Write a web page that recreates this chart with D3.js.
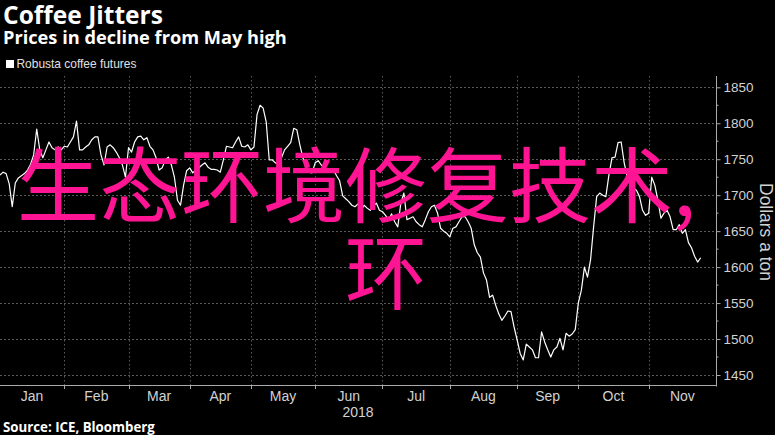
<!DOCTYPE html>
<html><head><meta charset="utf-8">
<script src="https://cdn.jsdelivr.net/npm/d3@7/dist/d3.min.js"></script>
<style>html,body{margin:0;padding:0;background:#000;}svg{display:block;}</style>
</head><body>
<svg id="c" width="775" height="435"></svg>
<script>
// ---- data ----
const months = ["Jan","Feb","Mar","Apr","May","Jun","Jul","Aug","Sep","Oct","Nov"];
const sessionsPerMonth = [21,21,20,20,21,22,22,22,20,23,22];
const yearLabel = "2018";
const yTicks = [1450,1500,1550,1600,1650,1700,1750,1800,1850];
// Robusta coffee futures, one value per trading session from Jan 2 2018
const prices = [
1728,1732,1730,1716,1684,1717,1724,1727,1730,1735,1743,1756,1792,1763,1752,1763,1774,1766,1763,1767,
1763,1768,1767,1774,1781,1803,1763,1763,1767,1770,1777,1781,1781,1756,1742,1767,1770,1766,1760,1752,
1742,1725,1766,1760,1774,1781,1782,1777,1780,1768,1763,1752,1735,1738,1749,1753,1742,1725,1693,1686,
1714,1734,1738,1731,1735,1738,1742,1745,1739,1736,1736,1735,1732,1749,1768,1767,1766,1774,1781,1768,
1767,1770,1763,1767,1812,1825,1821,1802,1749,1749,1745,1742,1752,1763,1768,1773,1793,1791,1770,1752,
1738,1732,1731,1745,1748,1742,1739,1735,1732,1735,1727,1720,1699,1695,1691,1686,1684,1688,1679,1686,
1682,1679,1685,1689,1679,1677,1672,1666,1674,1663,1656,1689,1703,1666,1668,1670,1663,1659,1656,1666,
1677,1684,1686,1675,1654,1650,1647,1642,1654,1656,1663,1670,1670,1663,1654,1631,1620,1614,1592,1582,
1558,1561,1547,1535,1526,1532,1539,1538,1517,1499,1480,1471,1493,1489,1485,1474,1474,1510,1496,1485,
1475,1485,1489,1501,1485,1508,1504,1507,1513,1550,1568,1600,1586,1610,1656,1698,1703,1700,1698,1728,
1752,1753,1773,1774,1745,1725,1716,1710,1707,1698,1679,1672,1675,1725,1714,1693,1668,1675,1679,1670,
1652,1652,1659,1647,1652,1634,1627,1615,1607,1613
];
const titleText = "Coffee Jitters";
const subtitleText = "Prices in decline from May high";
const legendText = "Robusta coffee futures";
const sourceText = "Source: ICE, Bloomberg";
const axisTitle = "Dollars a ton";
const overlayLines = ["生态环境修复技术,", "环"];

// ---- layout ----
const svg = d3.select("#c");
svg.append("rect").attr("width",775).attr("height",435).attr("fill","#000");
const plotL = 0, plotR = 716, plotT = 76, plotB = 385.5;
const totalSessions = d3.sum(sessionsPerMonth);
const starts = [];
sessionsPerMonth.reduce((a,n)=>{starts.push(a);return a+n;},0);

const x = d3.scaleLinear().domain([0,totalSessions]).range([plotL,plotR]);
const y = d3.scaleLinear().domain([1450,1850]).range([375,87.3]);

const grid = svg.append("g");
grid.selectAll("line.h").data(yTicks).join("line")
  .attr("x1",plotL).attr("x2",plotR).attr("y1",d=>y(d)).attr("y2",d=>y(d))
  .attr("stroke","#5a5a5a").attr("stroke-width",1).attr("stroke-dasharray","1.5,2.5").attr("shape-rendering","crispEdges");
grid.selectAll("line.v").data(starts.slice(1)).join("line")
  .attr("x1",d=>Math.round(x(d))+0.5).attr("x2",d=>Math.round(x(d))+0.5).attr("y1",plotT).attr("y2",plotB)
  .attr("stroke","#5a5a5a").attr("stroke-width",1).attr("stroke-dasharray","1.5,2.5");

// right axis
const yAxis = d3.axisRight(y).tickValues(yTicks).tickSize(4).tickPadding(3).tickFormat(d3.format("d"));
const ya = svg.append("g").attr("transform",`translate(${plotR+0.5},0)`).call(yAxis);
ya.select(".domain").remove();
ya.selectAll("line").attr("stroke","#aaa");
ya.selectAll("text").attr("fill","#d2d2d2").attr("font-family","Liberation Sans, Arial, sans-serif").attr("font-size",13.5);
const minor = d3.range(1475,1850,50);
svg.append("g").selectAll("line").data(minor).join("line")
  .attr("x1",plotR).attr("x2",plotR+2.5).attr("y1",d=>y(d)).attr("y2",d=>y(d)).attr("stroke","#aaa");
svg.append("line").attr("x1",plotR+0.5).attr("x2",plotR+0.5).attr("y1",plotT).attr("y2",plotB+1).attr("stroke","#aaa");

// bottom axis
svg.append("line").attr("x1",plotL).attr("x2",plotR+1).attr("y1",plotB).attr("y2",plotB).attr("stroke","#aaa");
svg.append("g").selectAll("line").data(starts.slice(1)).join("line")
  .attr("x1",d=>Math.round(x(d))+0.5).attr("x2",d=>Math.round(x(d))+0.5).attr("y1",plotB).attr("y2",plotB+3.5).attr("stroke","#aaa");
svg.append("g").selectAll("text").data(months).join("text")
  .attr("x",(d,i)=>x(starts[i]+sessionsPerMonth[i]/2)).attr("y",400.5)
  .attr("text-anchor","middle").attr("fill","#d2d2d2")
  .attr("font-family","Liberation Sans, Arial, sans-serif").attr("font-size",14).text(d=>d);
svg.append("text").attr("x",x(totalSessions/2)).attr("y",416.5).attr("text-anchor","middle")
  .attr("fill","#d2d2d2").attr("font-family","Liberation Sans, Arial, sans-serif").attr("font-size",14).text(yearLabel);

function fit(t,w){const c=t.node().getComputedTextLength();const fs=parseFloat(t.attr("font-size"));t.attr("font-size",fs*w/c);return t;}
const at = svg.append("text").attr("transform","translate(760,232) rotate(90)").attr("text-anchor","middle")
  .attr("fill","#d2d2d2").attr("font-family","Liberation Sans, Arial, sans-serif").attr("font-size",14).text(axisTitle);
fit(at,98);

// line
const line = d3.line().x((d,i)=>x(i)).y(d=>y(d));
svg.append("path").datum(prices).attr("d",line).attr("fill","none").attr("stroke","#fff").attr("stroke-width",1.2).attr("stroke-linejoin","round");

// titles
const tt = svg.append("text").attr("x",3).attr("y",23.5).attr("fill","#fff").attr("font-weight","bold")
  .attr("font-family","Open Sans, Liberation Sans, sans-serif").attr("font-size",22).text(titleText);
fit(tt,160);
const st = svg.append("text").attr("x",3).attr("y",43.5).attr("fill","#fff").attr("font-weight","bold")
  .attr("font-family","Open Sans, Liberation Sans, sans-serif").attr("font-size",16).text(subtitleText);
fit(st,284);
svg.append("rect").attr("x",6).attr("y",60).attr("width",8).attr("height",8).attr("fill","#fff");
const lt = svg.append("text").attr("x",16.5).attr("y",68.3).attr("fill","#e0e0e0")
  .attr("font-family","Liberation Sans, Arial, sans-serif").attr("font-size",11.5).text(legendText);
fit(lt,120);
const so = svg.append("text").attr("x",3).attr("y",431.5).attr("fill","#fff").attr("font-weight","bold")
  .attr("font-family","Open Sans, Liberation Sans, sans-serif").attr("font-size",12).text(sourceText);
fit(so,152);

// overlay text
const ov = svg.append("g").attr("fill","#ff1493").attr("font-family","Noto Sans CJK SC, sans-serif").attr("font-size",82);
ov.append("text").attr("x",17).attr("y",180).attr("dominant-baseline","central").text(overlayLines[0]);
ov.append("text").attr("x",386).attr("y",267).attr("text-anchor","middle").attr("dominant-baseline","central").text(overlayLines[1]);
</script>
</body></html>
